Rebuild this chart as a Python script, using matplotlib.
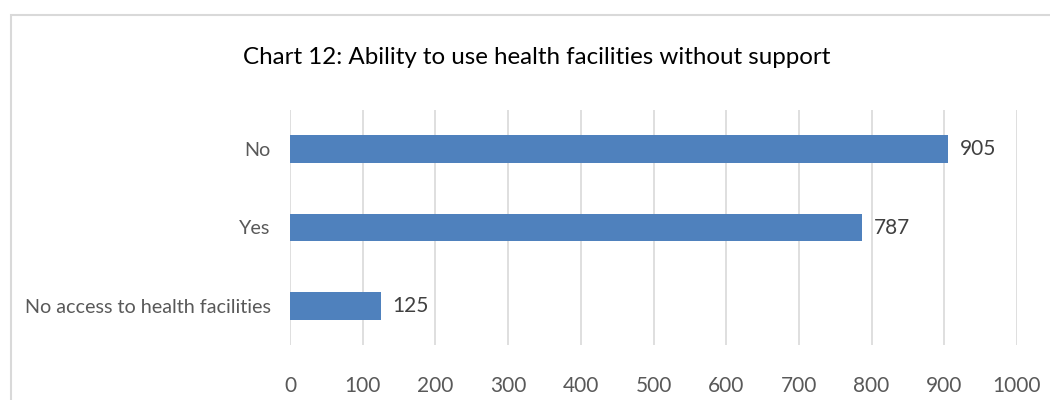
import matplotlib
matplotlib.use('Agg')
import matplotlib.pyplot as plt
from matplotlib.patches import Rectangle

# datos
categorias = ['No access to health facilities', 'Yes', 'No']
valores = [125, 787, 905]
ticks_x = [0, 100, 200, 300, 400, 500, 600, 700, 800, 900, 1000]

plt.rcParams['font.family'] = ['Lato', 'DejaVu Sans']

fig = plt.figure(figsize=(10.5, 4.0), dpi=100)
ax = fig.add_axes([290 / 1050, 1 - 345 / 400, 727 / 1050, 235 / 400])

# marco del grafico
fig.patches.append(Rectangle((11 / 1050, -0.1), 1.2, 1 - 15 / 400 + 0.1,
                             transform=fig.transFigure, fill=False,
                             edgecolor='#d9d9d9', lw=1.5))

pos = range(len(categorias))
ax.barh(pos, valores, height=0.35, color='#4f81bd', zorder=3)
for p, v in zip(pos, valores):
    ax.text(v + 16, p, str(v), va='center', ha='left', fontsize=15,
            color='#404040')

ax.set_xlim(0, 1000)
ax.set_ylim(-0.5, 2.5)
ax.set_xticks(ticks_x)
ax.set_yticks(list(pos))
ax.set_yticklabels(categorias)
ax.tick_params(axis='both', length=0, labelsize=15, colors='#595959')
ax.tick_params(axis='x', pad=22)
ax.tick_params(axis='y', pad=14, labelsize=14.2)
ax.grid(axis='x', color='#d9d9d9', lw=1.2, zorder=0)
for s in ax.spines.values():
    s.set_visible(False)

fig.text(537 / 1050, 1 - 58 / 400,
         'Chart 12: Ability to use health facilities without support',
         ha='center', va='center', fontsize=17.4, color='#000000')

fig.savefig('out.png', dpi=100)
